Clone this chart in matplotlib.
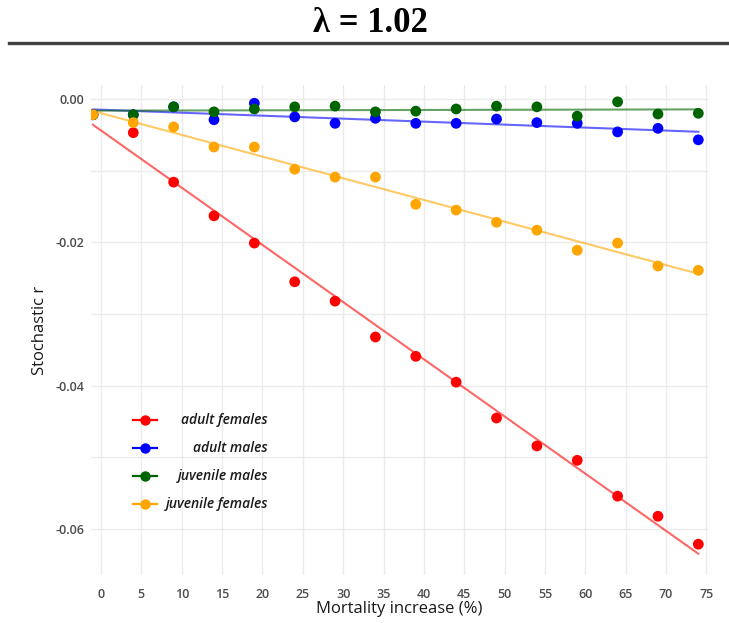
import numpy as np
import matplotlib
matplotlib.use("Agg")
import matplotlib.pyplot as plt
from matplotlib.lines import Line2D

# ---- data ----
mortality = [-1, 4, 9, 14, 19, 24, 29, 34, 39, 44, 49, 54, 59, 64, 69, 74]
adult_females = [-0.0022, -0.0047, -0.0116, -0.0163, -0.0201, -0.0255, -0.0282, -0.0332,
                 -0.0359, -0.0395, -0.0445, -0.0484, -0.0504, -0.0554, -0.0582, -0.0621]
adult_males = [-0.0022, -0.0022, -0.0011, -0.0029, -0.0006, -0.0025, -0.0034, -0.0027,
               -0.0034, -0.0034, -0.0028, -0.0033, -0.0034, -0.0046, -0.0041, -0.0057]
juvenile_males = [-0.0022, -0.0022, -0.0011, -0.0018, -0.0014, -0.0011, -0.0010, -0.0018,
                  -0.0017, -0.0014, -0.0010, -0.0011, -0.0024, -0.0004, -0.0021, -0.0020]
juvenile_females = [-0.0022, -0.0033, -0.0039, -0.0067, -0.0067, -0.0098, -0.0109, -0.0109,
                    -0.0147, -0.0155, -0.0172, -0.0183, -0.0211, -0.0201, -0.0233, -0.0239]
series_names = ["adult females", "adult males", "juvenile males", "juvenile females"]
series_values = [adult_females, adult_males, juvenile_males, juvenile_females]
series_colors = ["#FF0000", "#0000FF", "#006400", "#FFA500"]
x_ticks = list(range(0, 80, 5))
y_ticks = [0.00, -0.02, -0.04, -0.06]
y_minor = [-0.01, -0.03, -0.05]

FONT = "Open Sans"

fig = plt.figure(figsize=(7.29, 6.23), dpi=100)
ax = fig.add_axes([0.1248, 0.0770, 0.9712 - 0.1248, 0.8636 - 0.0770])

# title and rule
fig.text(0.508, 0.962, "λ = 1.02", ha="center", va="center",
         fontsize=25, fontweight="bold", family="Liberation Serif")
fig.add_artist(Line2D([0.012, 1.0], [0.931, 0.931], color="#404040", lw=2.4,
                      transform=fig.transFigure))

x = np.array(mortality, dtype=float)
xs = np.array([x.min(), x.max()])
for name, vals, col in zip(series_names, series_values, series_colors):
    y = np.array(vals)
    b, a = np.polyfit(x, y, 1)
    ax.plot(xs, a + b * xs, color=col, lw=1.5, alpha=0.6, zorder=2)
# points drawn after lines, orange last so it sits on top at baseline
for name, vals, col in zip(series_names, series_values, series_colors):
    ax.scatter(x, vals, color=col, s=60, zorder=3, edgecolors="none")

ax.set_xlim(-1.24, 75.2)
ax.set_ylim(-0.0664, 0.00195)
ax.set_xticks(x_ticks)
ax.set_yticks(y_ticks)
ax.set_yticks(y_minor, minor=True)
ax.set_xticklabels([str(t) for t in x_ticks])
ax.set_yticklabels(["0.00", "-0.02", "-0.04", "-0.06"])
ax.grid(True, which="both", color="#EBEBEB", lw=1.0)
ax.set_axisbelow(True)
for s in ax.spines.values():
    s.set_visible(False)
ax.tick_params(which="both", length=0, labelsize=9, labelcolor="#4D4D4D", pad=5)
ax.tick_params(axis="x", pad=9)
for lab in ax.get_xticklabels() + ax.get_yticklabels():
    lab.set_family(FONT)
    lab.set_fontweight("semibold")

ax.set_xlabel("Mortality increase (%)", fontsize=12, family=FONT, color="#1A1A1A", labelpad=0.5)
ax.set_ylabel("Stochastic r", fontsize=12, family=FONT, color="#1A1A1A", labelpad=5)

# legend (manual, right-aligned labels)
leg_y = [420, 448, 476, 504]
for name, col, py in zip(series_names, series_colors, leg_y):
    yf = 1 - py / 623
    fig.add_artist(Line2D([133 / 729, 157 / 729], [yf, yf], color=col, lw=1.6,
                          transform=fig.transFigure))
    fig.add_artist(Line2D([145 / 729], [yf], color=col, marker="o", markersize=7.5,
                          markeredgewidth=0, transform=fig.transFigure))
    fig.text(268 / 729, yf, name, ha="right", va="center", fontsize=10,
             style="italic", fontweight="semibold", family=FONT, color="#1A1A1A")

fig.savefig("out.png", dpi=100)
